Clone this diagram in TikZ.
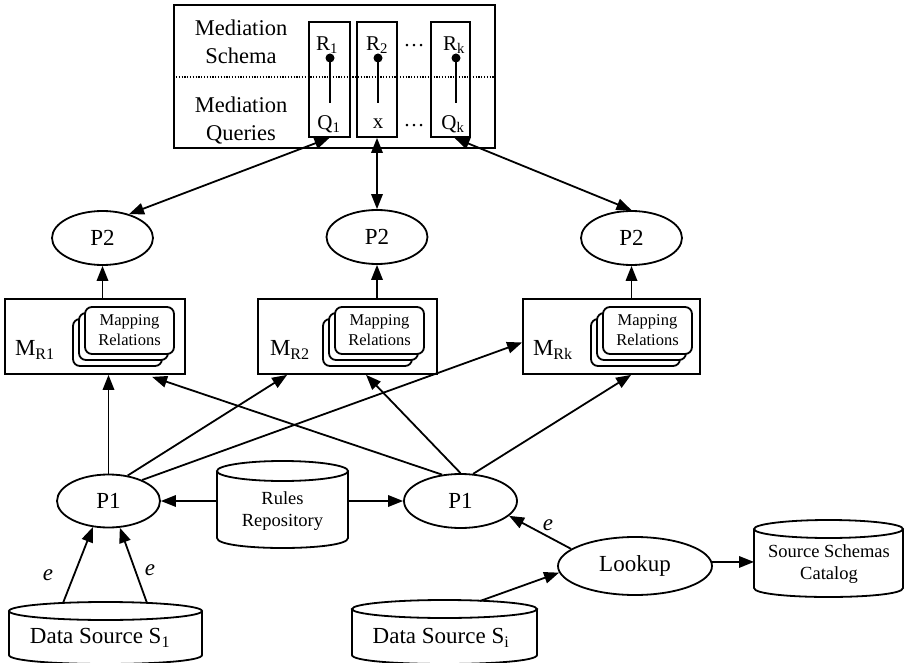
\documentclass[tikz,border=0pt]{standalone}
\usepackage{fontspec}
\setmainfont{Liberation Serif}
\usetikzlibrary{arrows.meta,calc,shapes.geometric}
\newcommand\drawcyl[5]{%
 \draw[lw,fill=white] ({#1},{#2-#4/2+#5}) ellipse [x radius={#3/2}, y radius={#5}];
 \draw[lw] ({#1-#3/2},{#2-#4/2+#5}) -- ({#1-#3/2},{#2+#4/2-#5}) .. controls ({#1-#3/2},{#2+#4/2+#5/3}) and ({#1+#3/2},{#2+#4/2+#5/3}) .. ({#1+#3/2},{#2+#4/2-#5}) -- ({#1+#3/2},{#2-#4/2+#5});
}
\newcommand\mapstack[2]{%
 \node[card] (#1c) at ({#2-12},342.5) {};
 \node[card] (#1b) at ({#2-6},336.5) {};
 \node[card,tinyf,align=center] (#1) at ({#2},330.5) {Mapping\\Relations};
}
\begin{document}
\begin{tikzpicture}[x=1pt,y=-1pt,
  lw/.style={line width=1.8pt},
  bigf/.style={font=\fontsize{23}{27}\selectfont},
  smallf/.style={font=\fontsize{18.5}{22}\selectfont},
  tinyf/.style={font=\fontsize{16.5}{20}\selectfont},
  medf/.style={font=\fontsize{21}{25}\selectfont},
  proc/.style={draw,lw,ellipse,inner sep=0pt,bigf},
  box/.style={draw,lw,rectangle,inner sep=0pt},
  plain/.style={inner sep=0pt,outer sep=0pt},
  arr/.style={lw,-{Triangle[length=15pt,width=11.5pt]}},
  darr/.style={lw,{Triangle[length=15pt,width=11.5pt]}-{Triangle[length=15pt,width=11.5pt]}},
  card/.style={draw,lw,fill=white,rounded corners=7pt,minimum width=89pt,minimum height=47pt,inner sep=0pt},
  elabel/.style={inner sep=0pt,font=\fontsize{23}{27}\selectfont\itshape},
  dot/.style={circle,fill,inner sep=0pt,minimum size=9pt},
]
\useasboundingbox (0,0) rectangle (905,663);

% ---- mediation box ----
\node[box,minimum width=321pt,minimum height=143pt] (med) at (334.5,76.5) {};
\draw[line width=1.2pt,dash pattern=on 1.2pt off 1.6pt] (med.west |- 0,77) -- (med.east |- 0,77);
\node[box,minimum width=41pt,minimum height=115pt] (q1box) at (329.5,79.5) {};
\node[box,minimum width=40pt,minimum height=115pt] (q2box) at (377,79.5) {};
\node[box,minimum width=39pt,minimum height=115pt] (qkbox) at (450.5,79.5) {};
\node[align=center,font=\fontsize{22.5}{28}\selectfont] (ms) at (241,42) {Mediation\\Schema};
\node[align=center,font=\fontsize{22.5}{28}\selectfont] (mq) at (241,121) {Mediation\\Queries};
\node[medf,plain] (r1) at (327,45) {R\textsubscript{1}};
\node[medf,plain] (r2) at (377,45) {R\textsubscript{2}};
\node[medf,plain] (rk) at (454,45) {R\textsubscript{k}};
\node[medf,plain] (rdots) at (414,46) {\ldots};
\node[medf,plain] (q1) at (329,124) {Q\textsubscript{1}};
\node[medf,plain] (qx) at (378,124) {x};
\node[medf,plain] (qk) at (453,124) {Q\textsubscript{k}};
\node[medf,plain] (qdots) at (414,126) {\ldots};
\node[dot] (d1) at (330,58) {};
\node[dot] (d2) at (378,58) {};
\node[dot] (dk) at (456,58) {};
\draw[lw] (d1.center) -- ++(0,45);
\draw[lw] (d2.center) -- ++(0,45);
\draw[lw] (dk.center) -- ++(0,45);

% ---- P2 ----
\node[proc,minimum width=101pt,minimum height=54pt] (p2a) at (102.5,238) {P2};
\node[proc,minimum width=101pt,minimum height=54pt] (p2b) at (377,237) {P2};
\node[proc,minimum width=101pt,minimum height=54pt] (p2c) at (631.5,238) {P2};

% ---- MR boxes ----
\node[box,minimum width=180pt,minimum height=75pt] (mr1) at (95,336.5) {};
\node[box,minimum width=179pt,minimum height=75pt] (mr2) at (347.5,336.5) {};
\node[box,minimum width=177pt,minimum height=75pt] (mrk) at (611.5,336.5) {};
\node[bigf,plain,anchor=west] (lmr1) at (15,350) {M\textsubscript{R1}};
\node[bigf,plain,anchor=west] (lmr2) at (270,350) {M\textsubscript{R2}};
\node[bigf,plain,anchor=west] (lmrk) at (533,350) {M\textsubscript{Rk}};
\mapstack{map1}{129.5}
\mapstack{map2}{379.5}
\mapstack{mapk}{647.5}

% ---- P1, lookup ----
\node[proc,minimum width=103pt,minimum height=53pt] (p1a) at (108.5,501) {P1};
\node[proc,minimum width=113pt,minimum height=54pt] (p1b) at (460.5,501) {P1};
\node[proc,minimum width=154pt,minimum height=58pt] (lookup) at (635,566) {Lookup};

% ---- cylinders ----
\node[plain,minimum width=131pt,minimum height=87pt] (rules) at (282.5,504.5) {};
\drawcyl{282.5}{504.5}{131}{87}{10}
\node[smallf,align=center] (rulest) at (282.5,511) {Rules\\Repository};
\node[plain,minimum width=193pt,minimum height=62pt] (s1) at (105.5,633) {};
\drawcyl{105.5}{633}{193}{62}{9}
\node[bigf] (s1t) at (100,638) {Data Source S\textsubscript{1}};
\node[plain,minimum width=185pt,minimum height=64pt] (si) at (444.5,632) {};
\drawcyl{444.5}{632}{185}{64}{9}
\node[bigf] (sit) at (441,638) {Data Source S\textsubscript{i}};
\node[plain,minimum width=149pt,minimum height=77pt] (catalog) at (828.5,558.5) {};
\drawcyl{828.5}{558.5}{149}{77}{9}
\node[smallf,align=center] (catt) at (829,564) {Source Schemas\\Catalog};

% ---- connectors ----
\draw[darr] (q1box.south) -- (p2a.42);
\draw[darr] (q2box.south) -- (p2b.north);
\draw[darr] ($(qkbox.south)+(4,0)$) -- (p2c.north);
\draw[arr] (p2a.south |- mr1.north) -- (p2a.south);
\draw[arr] (p2b.south |- mr2.north) -- (p2b.south);
\draw[arr] (p2c.south |- mrk.north) -- (p2c.south);

\draw[arr] (p1a.north) -- (p1a.north |- mr1.south);
\draw[arr] (p1a.53) -- ($(mr2.south west)+(30,0)$);
\draw[arr] (p1a.32) -- ($(mrk.west)+(0,6)$);
\draw[arr] (p1b.125) -- ($(mr1.south west)+(148,2)$);
\draw[arr] (p1b.north) -- ($(mr2.south west)+(109,0)$);
\draw[arr] (p1b.65) -- ($(mrk.south west)+(109,0)$);

\draw[arr] (rules.west |- p1a.east) -- (p1a.east);
\draw[arr] (rules.east |- p1b.west) -- (p1b.west);

\draw[arr] ($(s1.north west)+(54,1)$) -- (p1a.239);
\draw[arr] ($(s1.north west)+(138,1)$) -- (p1a.293);
\node[elabel] (e1) at (48,575) {e};
\node[elabel] (e2) at (150,570) {e};

\draw[arr] ($(si.north west)+(128,1)$) -- (lookup.185);
\draw[arr] (lookup.165) -- (p1b.343);
\node[elabel] (e3) at (548,525) {e};
\draw[arr] (lookup.3) -- (lookup.3 -| catalog.west);
\end{tikzpicture}
\end{document}
